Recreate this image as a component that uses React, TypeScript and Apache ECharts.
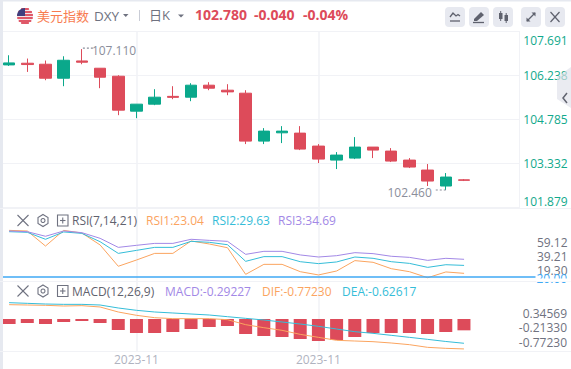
import React, { useEffect, useRef } from "react";
import * as echarts from "echarts";

const FONT = '"Open Sans", "Noto Sans CJK SC", sans-serif';
const RED = "#dd4b5a";
const GREEN = "#0aa88b";
const ORANGE = "#fba45f";
const CYAN = "#35bdd8";
const PURPLE = "#a288e6";
const GREY = "#6f7280";
const LINE = "#f1f2f6";

const opens = [106.588, 106.644, 106.611, 106.149, 106.719, 106.479, 106.215, 105.062, 105.293, 105.55, 105.523, 105.919, 105.754, 105.655, 104.073, 104.347, 104.337, 103.909, 103.447, 103.513, 103.876, 103.744, 103.447, 103.118, 102.591, 102.795];
const closes = [106.654, 106.6, 106.149, 106.742, 106.677, 106.182, 105.095, 105.293, 105.523, 105.517, 105.919, 105.82, 105.698, 104.073, 104.403, 104.403, 103.81, 103.48, 103.612, 103.876, 103.777, 103.414, 103.217, 102.755, 102.887, 102.78];
const lows = [106.555, 106.357, 106.083, 105.886, 106.611, 105.82, 104.93, 104.831, 105.26, 105.457, 105.391, 105.754, 105.589, 103.975, 103.975, 104.008, 103.777, 103.349, 103.151, 103.48, 103.513, 103.382, 103.184, 102.591, 102.46, 102.755];
const highs = [106.907, 106.798, 106.733, 106.874, 107.11, 106.479, 106.248, 105.293, 105.787, 105.886, 105.985, 106.018, 105.952, 105.754, 104.502, 104.568, 104.568, 103.975, 103.711, 104.205, 103.876, 103.843, 103.513, 103.316, 103.019, 102.821];

const rsi1 = [58.7, 58.2, 45.7, 58.7, 56.5, 46.6, 28.9, 34.1, 39.6, 39.6, 49.9, 47.4, 44.3, 22.2, 30.5, 30.5, 24.4, 21.7, 25.0, 33.6, 32.2, 26.9, 24.4, 19.4, 24.2, 23.04];
const rsi2 = [57.6, 57.1, 51.3, 57.4, 56.2, 49.3, 39.6, 42.1, 44.6, 44.6, 49.6, 48.8, 46.8, 33.0, 36.9, 36.9, 32.7, 31.1, 32.5, 36.6, 35.5, 32.7, 31.3, 28.0, 30.2, 29.63];
const rsi3 = [58.2, 57.6, 53.8, 58.2, 56.8, 52.1, 44.6, 46.3, 47.9, 47.9, 51.3, 50.4, 49.6, 38.8, 41.3, 41.3, 38.3, 36.6, 37.7, 40.2, 39.4, 37.2, 36.3, 33.8, 35.5, 34.69];

const hist = [-0.129, -0.103, -0.129, -0.077, -0.052, -0.103, -0.284, -0.361, -0.361, -0.335, -0.258, -0.206, -0.181, -0.387, -0.439, -0.464, -0.516, -0.568, -0.542, -0.464, -0.361, -0.361, -0.361, -0.387, -0.335, -0.29227];
const dif = [0.37, 0.361, 0.353, 0.335, 0.344, 0.31, 0.181, 0.095, 0.034, 0.009, 0.009, 0.009, -0.017, -0.146, -0.224, -0.292, -0.396, -0.473, -0.55, -0.568, -0.585, -0.619, -0.662, -0.731, -0.757, -0.7723];
const dea = [0.421, 0.404, 0.387, 0.378, 0.378, 0.361, 0.284, 0.224, 0.181, 0.155, 0.129, 0.103, 0.06, 0.017, -0.026, -0.077, -0.129, -0.189, -0.258, -0.327, -0.37, -0.421, -0.473, -0.525, -0.58, -0.62617];

const priceTicks = [101.879, 103.332, 104.785, 106.238, 107.691];
const rsiTicks = [19.3, 39.21, 59.12];
const macdTicks = [-0.7723, -0.2133, 0.34569];
const monthTickIndex = [7, 17];
const monthLabel = "2023-11";
const rsiLevel = 20;

const idx = (a: number[]) => a.map((v, i) => [i, v]);
const txt = (text: string, x: number, y: number, fill: string, fontSize = 12, fontWeight: any = "normal") => ({
  type: "text", silent: true, z: 100,
  style: { text, x, y, fill, fontSize, fontWeight, fontFamily: FONT, verticalAlign: "middle" },
});
const seg = (x1: number, y1: number, x2: number, y2: number, stroke: string, lineWidth = 1) => ({
  type: "line", silent: true, z: 100, shape: { x1, y1, x2, y2 }, style: { stroke, lineWidth },
});
const poly = (points: number[][], stroke: string, lineWidth = 1.3) => ({
  type: "polyline", silent: true, z: 101, shape: { points }, style: { stroke, lineWidth, fill: "none" },
});
const fillRect = (x: number, y: number, width: number, height: number, fill: string, r = 0, z = 100) => ({
  type: "rect", silent: true, z, shape: { x, y, width, height, r }, style: { fill },
});

function panelIcons(y: number) {
  const hex = [[43, y - 6], [48, y - 3], [48, y + 3], [43, y + 6], [38, y + 3], [38, y - 3]];
  return [
    seg(17.5, y - 5.5, 28.5, y + 5.5, GREY, 1.1),
    seg(28.5, y - 5.5, 17.5, y + 5.5, GREY, 1.1),
    { type: "polygon", silent: true, z: 100, shape: { points: hex }, style: { stroke: GREY, lineWidth: 1.1, fill: "none" } },
    { type: "circle", silent: true, z: 100, shape: { cx: 43, cy: y, r: 2 }, style: { stroke: GREY, lineWidth: 1.1, fill: "none" } },
    { type: "rect", silent: true, z: 100, shape: { x: 57.5, y: y - 5.5, width: 10.5, height: 11 }, style: { stroke: GREY, lineWidth: 1.1, fill: "none" } },
    seg(60, y, 65.5, y, GREY, 1.1),
    seg(62.75, y - 3, 62.75, y + 3, GREY, 1.1),
  ];
}

function flag() {
  const cx = 25, cy = 16, r = 8;
  const out: any[] = [{ type: "circle", silent: true, z: 100, shape: { cx, cy, r }, style: { fill: "#f3e6e8" } }];
  [-7, -4, -1, 2, 5, 7].forEach((d) => {
    const h = Math.sqrt(r * r - d * d);
    out.push(seg(cx - h, cy + d, cx + h, cy + d, "#d8283e", 1.5));
  });
  out.push({ type: "sector", silent: true, z: 101, shape: { cx, cy, r0: 0, r, startAngle: Math.PI, endAngle: Math.PI * 1.5 }, style: { fill: "#3f3f7e" } });
  return out;
}

function toolbar() {
  const c = "#5f626e";
  const out: any[] = [445, 469, 493, 521, 545].map((x) => fillRect(x, 7, 20, 20, "#e7e9f0", 4));
  out.push(
    poly([[450, 17], [453, 13], [456, 16], [458, 14.5], [460, 16]], c),
    seg(450, 21, 460, 21, c, 1.3),
    { type: "polygon", silent: true, z: 101, shape: { points: [[474, 19], [481, 12], [484, 15], [477, 21], [474, 21]] }, style: { fill: c } },
    seg(473, 22.5, 484, 22.5, c, 1.3),
    fillRect(499, 13, 3.5, 6, c, 0, 101), seg(500.7, 11, 500.7, 21, c, 1),
    fillRect(504.5, 15, 3.5, 6, c, 0, 101), seg(506.2, 13, 506.2, 23, c, 1),
    seg(527, 21, 535, 13, c, 1.2),
    { type: "polygon", silent: true, z: 101, shape: { points: [[535.5, 12.5], [531.5, 12.5], [535.5, 16.5]] }, style: { fill: c } },
    { type: "polygon", silent: true, z: 101, shape: { points: [[526.5, 21.5], [530.5, 21.5], [526.5, 17.5]] }, style: { fill: c } },
    seg(550.5, 12, 559.5, 22, c, 1.2),
    seg(559.5, 12, 550.5, 22, c, 1.2),
  );
  return out;
}

const chrome: any[] = [
  fillRect(0, 0, 3, 369, "#e6e9f0"),
  fillRect(0, 0, 571, 1.5, "#e6e9f0"),
  ...flag(),
  txt("美元指数", 37, 15.5, "#f87c50", 13),
  txt("DXY", 94, 16, "#6f7280", 13.5),
  { type: "polygon", silent: true, z: 100, shape: { points: [[123, 14], [128.5, 14], [125.75, 17]] }, style: { fill: GREY } },
  seg(139.5, 10, 139.5, 21, "#c9ccd6", 1),
  txt("日K", 149, 15, "#6f7280", 13),
  { type: "polygon", silent: true, z: 100, shape: { points: [[178, 14.5], [184, 14.5], [181, 17.5]] }, style: { fill: GREY } },
  txt("102.780", 195, 14.5, RED, 14, "bold"),
  txt("-0.040", 254, 14.5, RED, 14, "bold"),
  txt("-0.04%", 303, 14.5, RED, 14, "bold"),
  ...toolbar(),
  { type: "polygon", silent: true, z: 100, shape: { points: [[571, 67], [557, 77], [557, 99], [571, 108]] }, style: { fill: "rgba(222,225,233,0.65)" } },
  poly([[567, 93], [563, 98], [567, 103]], "#60636f", 1.5),
  seg(0, 208.5, 571, 208.5, LINE),
  seg(0, 281.5, 571, 281.5, LINE),
  seg(0, 351.5, 571, 351.5, LINE),
  seg(519.5, 32, 519.5, 208, LINE),
  fillRect(536, 278.5, 35, 3, "#ffffff"),
  ...panelIcons(220.5),
  txt("RSI(7,14,21)", 72, 220.5, "#5f626e"),
  txt("RSI1:23.04", 146, 220.5, ORANGE),
  txt("RSI2:29.63", 212, 220.5, CYAN),
  txt("RSI3:34.69", 278, 220.5, PURPLE),
  ...panelIcons(291),
  txt("MACD(12,26,9)", 72, 291, "#5f626e"),
  txt("MACD:-0.29227", 165, 291, PURPLE),
  txt("DIF:-0.77230", 262, 291, ORANGE),
  txt("DEA:-0.62617", 342, 291, CYAN),
];

const xBase = (gridIndex: number, max: number, showLabel = false) => ({
  type: "value", gridIndex, min: -0.5, max,
  axisLine: { show: false },
  axisTick: { show: false, customValues: monthTickIndex },
  splitLine: { show: true, lineStyle: { color: LINE, width: 1.5 } },
  axisLabel: {
    show: showLabel, customValues: monthTickIndex, formatter: () => monthLabel,
    color: "#b0b3bf", fontSize: 12, fontFamily: FONT, margin: 2,
  },
});

const labelAxis = (gridIndex: number, min: number, max: number, ticks: number[], digits: number, margin: number, position = "right") => ({
  type: "value", gridIndex, position, min, max,
  axisLine: { show: false },
  axisTick: { show: false, customValues: ticks },
  splitLine: { show: false },
  axisLabel: {
    customValues: ticks, formatter: (v: number) => v.toFixed(digits),
    color: "#6f7280", fontSize: 12, fontFamily: FONT, align: "right", margin,
  },
});

const hiddenAxis = (gridIndex: number, min: number, max: number) => ({
  type: "value", gridIndex, min, max, show: false, splitLine: { show: false },
});

const option: any = {
  animation: false,
  backgroundColor: "#ffffff",
  graphic: chrome,
  grid: [
    { left: -1.5, width: 521.5, top: 31.5, height: 176.1 },
    { left: -1.5, width: 537, top: 209, height: 72 },
    { left: -1.5, width: 521.5, top: 282, height: 69 },
  ],
  xAxis: [xBase(0, 28.08), xBase(1, 28.925), xBase(2, 28.08, true)],
  yAxis: [
    {
      type: "value", gridIndex: 0, position: "right", min: 101.879, max: 107.691,
      axisLine: { show: false },
      axisTick: { show: false, customValues: priceTicks },
      splitLine: { show: true, lineStyle: { color: LINE, width: 1 } },
      axisLabel: {
        customValues: priceTicks, formatter: (v: number) => v.toFixed(3),
        color: (v: number) => (v === 101.879 ? "#e0606d" : "#12a98c"),
        fontSize: 12, fontFamily: FONT, align: "right", margin: 47.7, padding: [3, 0, 0, 0],
        verticalAlignMinLabel: "bottom", verticalAlignMaxLabel: "top",
      },
    },
    hiddenAxis(1, 16.68, 76.44),
    labelAxis(1, 4.65, 107.05, rsiTicks, 2, 32),
    hiddenAxis(2, -0.8256, 0.9546),
    labelAxis(2, -1.119, 1.541, macdTicks, 5, 47),
  ],
  series: [
    {
      type: "candlestick", xAxisIndex: 0, yAxisIndex: 0, barWidth: 12,
      data: opens.map((o, i) => [i, o, closes[i], lows[i], highs[i]]),
      itemStyle: { color: GREEN, color0: RED, borderColor: GREEN, borderColor0: RED, borderWidth: 1 },
      markPoint: {
        silent: true,
        data: [
          {
            coord: [4, highs[4]], symbol: "path://M0 0h2v2h-2zM4 0h2v2h-2zM8 0h2v2h-2z",
            symbolSize: [10, 1.2], symbolOffset: [6, -1],
            itemStyle: { color: "#8b8e9b" },
            label: { show: true, position: "right", distance: 0, offset: [-1, 2], formatter: "107.110", color: "#8b8e9b", fontSize: 12, fontFamily: FONT },
          },
          {
            coord: [24, lows[24]], symbol: "path://M0 0h2v2h-2zM4 0h2v2h-2zM8 0h2v2h-2z",
            symbolSize: [10, 1.2], symbolOffset: [-5, 0],
            itemStyle: { color: "#8b8e9b" },
            label: { show: true, position: "left", distance: 4, offset: [0, 3], formatter: "102.460", color: "#8b8e9b", fontSize: 12, fontFamily: FONT },
          },
        ],
      },
    },
    {
      type: "line", xAxisIndex: 1, yAxisIndex: 1, data: idx(rsi1), symbol: "none", lineStyle: { color: ORANGE, width: 1 },
      markLine: {
        silent: true, symbol: "none",
        lineStyle: { color: "#3fa9f5", width: 1.5, type: "solid" },
        label: { show: true, position: "end", distance: 1, offset: [0, 1], formatter: "20.00", color: "#3fa9f5", fontSize: 12, fontFamily: FONT },
        data: [{ yAxis: rsiLevel }],
      },
    },
    { type: "line", xAxisIndex: 1, yAxisIndex: 1, data: idx(rsi2), symbol: "none", lineStyle: { color: CYAN, width: 1 } },
    { type: "line", xAxisIndex: 1, yAxisIndex: 1, data: idx(rsi3), symbol: "none", lineStyle: { color: PURPLE, width: 1 } },
    { type: "bar", xAxisIndex: 2, yAxisIndex: 3, data: idx(hist), barWidth: 13, itemStyle: { color: RED } },
    { type: "line", xAxisIndex: 2, yAxisIndex: 3, data: idx(dif), symbol: "none", lineStyle: { color: ORANGE, width: 1 } },
    { type: "line", xAxisIndex: 2, yAxisIndex: 3, data: idx(dea), symbol: "none", lineStyle: { color: CYAN, width: 1 } },
  ],
};

export default function App() {
  const ref = useRef<HTMLDivElement>(null);
  useEffect(() => {
    document.body.style.margin = "0";
    const chart = echarts.init(ref.current!, undefined, { renderer: "svg" });
    chart.setOption(option);
    return () => chart.dispose();
  }, []);
  return <div ref={ref} style={{ width: 571, height: 369 }} />;
}
